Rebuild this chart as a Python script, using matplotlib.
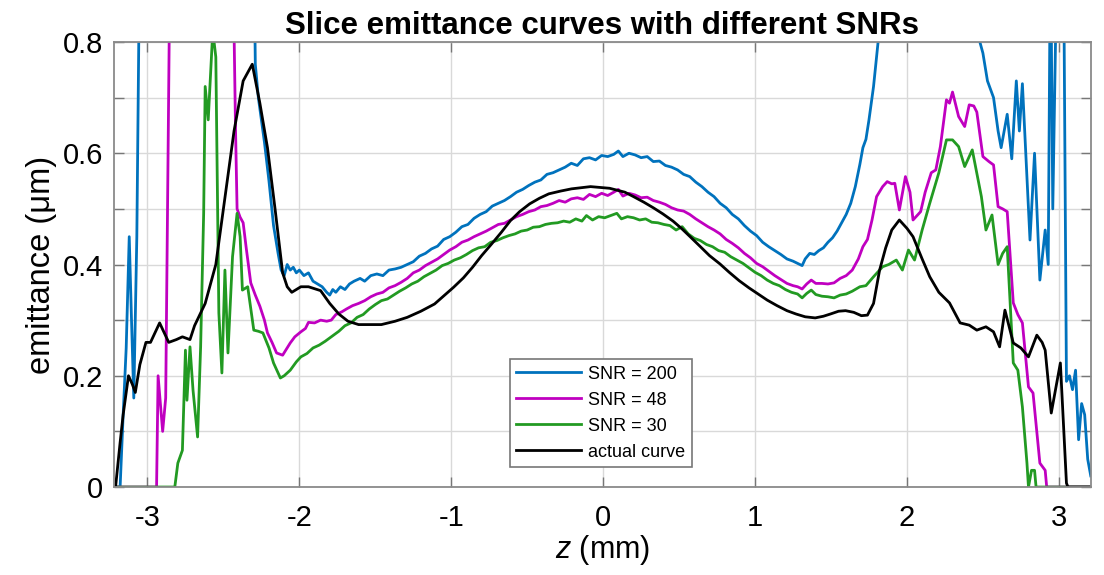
import matplotlib
matplotlib.use("Agg")
import matplotlib.pyplot as plt

# ---- data (z in mm, emittance in um) ----
# values above 0.8 are clipped in the original plot, 1.0 marks "off the top"
blue_z = [-3.21, -3.18, -3.16, -3.14, -3.12, -3.105, -3.09, -3.07, -3.05, -2.30,
          -2.29, -2.27, -2.25, -2.23, -2.20, -2.17, -2.14, -2.12, -2.10, -2.08,
          -2.06, -2.04, -2.02, -2.00, -1.97, -1.94, -1.91, -1.88, -1.85, -1.82,
          -1.80, -1.78, -1.76, -1.73, -1.70, -1.67, -1.64, -1.60, -1.57, -1.53,
          -1.49, -1.45, -1.41, -1.37, -1.33, -1.29, -1.25, -1.21, -1.17, -1.13,
          -1.09, -1.05, -1.01, -0.97, -0.93, -0.89, -0.85, -0.81, -0.77, -0.73,
          -0.69, -0.65, -0.61, -0.57, -0.53, -0.49, -0.45, -0.41, -0.37, -0.33,
          -0.29, -0.25, -0.21, -0.17, -0.13, -0.09, -0.05, -0.01, 0.03, 0.07,
          0.10, 0.13, 0.17, 0.21, 0.25, 0.29, 0.33, 0.37, 0.41, 0.45,
          0.49, 0.53, 0.57, 0.61, 0.65, 0.69, 0.73, 0.77, 0.81, 0.85,
          0.89, 0.93, 0.97, 1.01, 1.05, 1.09, 1.13, 1.17, 1.21, 1.25,
          1.28, 1.31, 1.33, 1.36, 1.39, 1.42, 1.45, 1.48, 1.51, 1.54,
          1.57, 1.60, 1.63, 1.66, 1.69, 1.71, 1.73, 1.75, 1.78, 1.81,
          1.83, 2.47, 2.48, 2.50, 2.53, 2.57, 2.60, 2.62, 2.66, 2.69,
          2.72, 2.74, 2.76, 2.81, 2.84, 2.875, 2.91, 2.93, 2.945, 2.96,
          2.99, 3.03, 3.05, 3.07, 3.09, 3.11, 3.13, 3.15, 3.17, 3.19,
          3.21]
blue_y = [0.0, 0.0, 0.13, 0.25, 0.45, 0.30, 0.16, 0.45, 1.0, 1.0,
          0.76, 0.70, 0.66, 0.62, 0.55, 0.47, 0.42, 0.39, 0.38, 0.40,
          0.39, 0.395, 0.385, 0.39, 0.38, 0.385, 0.37, 0.365, 0.36, 0.35,
          0.345, 0.355, 0.35, 0.36, 0.355, 0.365, 0.37, 0.375, 0.37, 0.38,
          0.383, 0.38, 0.39, 0.392, 0.395, 0.40, 0.405, 0.415, 0.42, 0.428,
          0.433, 0.445, 0.45, 0.458, 0.468, 0.472, 0.483, 0.49, 0.495, 0.505,
          0.51, 0.515, 0.522, 0.53, 0.535, 0.542, 0.548, 0.552, 0.562, 0.565,
          0.57, 0.575, 0.582, 0.578, 0.59, 0.592, 0.588, 0.596, 0.594, 0.598,
          0.604, 0.594, 0.60, 0.597, 0.592, 0.594, 0.585, 0.586, 0.578, 0.575,
          0.57, 0.562, 0.558, 0.548, 0.54, 0.53, 0.522, 0.51, 0.502, 0.49,
          0.482, 0.47, 0.46, 0.452, 0.44, 0.432, 0.425, 0.418, 0.41, 0.406,
          0.402, 0.398, 0.41, 0.42, 0.418, 0.425, 0.43, 0.44, 0.448, 0.46,
          0.475, 0.49, 0.51, 0.54, 0.58, 0.61, 0.625, 0.66, 0.72, 0.80,
          1.0, 1.0, 0.80, 0.78, 0.73, 0.70, 0.64, 0.61, 0.67, 0.59,
          0.73, 0.64, 0.725, 0.444, 0.60, 0.372, 0.462, 0.40, 1.0, 0.50,
          1.0, 1.0, 0.19, 0.20, 0.175, 0.21, 0.085, 0.15, 0.13, 0.05,
          0.02]

mag_z = [-3.22, -2.94, -2.93, -2.90, -2.88, -2.85, -2.44, -2.42, -2.41, -2.39,
         -2.37, -2.35, -2.32, -2.29, -2.26, -2.23, -2.21, -2.18, -2.15, -2.11,
         -2.08, -2.06, -2.03, -1.99, -1.96, -1.94, -1.90, -1.86, -1.82, -1.79,
         -1.76, -1.72, -1.69, -1.65, -1.61, -1.57, -1.53, -1.49, -1.45, -1.41,
         -1.37, -1.33, -1.29, -1.25, -1.21, -1.17, -1.13, -1.09, -1.05, -1.01,
         -0.97, -0.93, -0.89, -0.85, -0.81, -0.77, -0.73, -0.69, -0.65, -0.61,
         -0.57, -0.53, -0.49, -0.45, -0.41, -0.37, -0.33, -0.29, -0.25, -0.21,
         -0.17, -0.13, -0.09, -0.05, -0.01, 0.03, 0.07, 0.10, 0.13, 0.17,
         0.21, 0.25, 0.29, 0.33, 0.37, 0.41, 0.45, 0.49, 0.53, 0.57,
         0.61, 0.65, 0.69, 0.73, 0.77, 0.81, 0.85, 0.89, 0.93, 0.97,
         1.01, 1.05, 1.09, 1.13, 1.17, 1.21, 1.25, 1.28, 1.31, 1.34,
         1.37, 1.40, 1.44, 1.48, 1.52, 1.56, 1.60, 1.64, 1.68, 1.71,
         1.74, 1.77, 1.80, 1.84, 1.87, 1.90, 1.92, 1.95, 1.99, 2.02,
         2.04, 2.09, 2.12, 2.16, 2.19, 2.22, 2.26, 2.28, 2.30, 2.34,
         2.38, 2.41, 2.44, 2.46, 2.50, 2.54, 2.57, 2.60, 2.63, 2.66,
         2.70, 2.73, 2.76, 2.80, 2.83, 2.875, 2.91, 2.92, 3.22]
mag_y = [0.0, 0.0, 0.20, 0.10, 0.16, 1.0, 1.0, 0.64, 0.50, 0.485,
         0.475, 0.43, 0.367, 0.345, 0.325, 0.30, 0.277, 0.26, 0.241, 0.237,
         0.25, 0.259, 0.27, 0.279, 0.285, 0.296, 0.295, 0.30, 0.298, 0.30,
         0.31, 0.315, 0.32, 0.326, 0.33, 0.335, 0.342, 0.347, 0.35, 0.358,
         0.362, 0.368, 0.375, 0.385, 0.39, 0.398, 0.404, 0.41, 0.418, 0.426,
         0.432, 0.44, 0.444, 0.45, 0.455, 0.46, 0.466, 0.472, 0.474, 0.48,
         0.486, 0.49, 0.495, 0.498, 0.504, 0.506, 0.51, 0.515, 0.512, 0.518,
         0.52, 0.517, 0.526, 0.522, 0.528, 0.524, 0.53, 0.535, 0.523, 0.528,
         0.525, 0.52, 0.521, 0.515, 0.512, 0.508, 0.502, 0.498, 0.496, 0.49,
         0.482, 0.475, 0.468, 0.462, 0.455, 0.445, 0.438, 0.43, 0.42, 0.412,
         0.402, 0.396, 0.388, 0.38, 0.373, 0.366, 0.362, 0.36, 0.356, 0.365,
         0.372, 0.366, 0.366, 0.365, 0.367, 0.375, 0.38, 0.39, 0.41, 0.432,
         0.445, 0.48, 0.522, 0.54, 0.549, 0.545, 0.546, 0.498, 0.558, 0.53,
         0.48, 0.495, 0.53, 0.565, 0.57, 0.612, 0.696, 0.69, 0.71, 0.666,
         0.648, 0.687, 0.685, 0.674, 0.594, 0.585, 0.579, 0.504, 0.50, 0.495,
         0.331, 0.31, 0.295, 0.18, 0.169, 0.043, 0.03, 0.0, 0.0]

green_z = [-3.22, -2.82, -2.80, -2.77, -2.75, -2.74, -2.72, -2.70, -2.67, -2.65,
           -2.63, -2.62, -2.60, -2.57, -2.55, -2.53, -2.51, -2.49, -2.47, -2.44,
           -2.41, -2.39, -2.375, -2.34, -2.30, -2.27, -2.24, -2.20, -2.17, -2.125,
           -2.10, -2.06, -2.02, -1.99, -1.95, -1.91, -1.87, -1.83, -1.79, -1.74,
           -1.70, -1.66, -1.62, -1.58, -1.54, -1.50, -1.46, -1.42, -1.38, -1.34,
           -1.30, -1.26, -1.22, -1.18, -1.14, -1.10, -1.06, -1.02, -0.98, -0.94,
           -0.90, -0.86, -0.82, -0.78, -0.74, -0.70, -0.66, -0.62, -0.58, -0.54,
           -0.50, -0.46, -0.42, -0.38, -0.34, -0.30, -0.26, -0.22, -0.18, -0.14,
           -0.11, -0.07, -0.03, 0.01, 0.05, 0.09, 0.12, 0.16, 0.20, 0.24,
           0.28, 0.32, 0.36, 0.40, 0.44, 0.48, 0.52, 0.56, 0.60, 0.64,
           0.68, 0.72, 0.76, 0.80, 0.84, 0.88, 0.92, 0.96, 1.00, 1.04,
           1.08, 1.12, 1.16, 1.20, 1.24, 1.28, 1.31, 1.34, 1.37, 1.40,
           1.44, 1.48, 1.52, 1.56, 1.60, 1.64, 1.69, 1.73, 1.78, 1.84,
           1.88, 1.93, 1.97, 2.01, 2.05, 2.10, 2.15, 2.21, 2.26, 2.30,
           2.34, 2.38, 2.43, 2.49, 2.52, 2.56, 2.60, 2.63, 2.66, 2.70,
           2.73, 2.76, 2.79, 2.80, 2.82, 2.84, 2.85, 3.22]
green_y = [0.0, 0.0, 0.043, 0.066, 0.246, 0.156, 0.252, 0.174, 0.09, 0.252,
           0.492, 0.72, 0.66, 0.82, 0.773, 0.313, 0.205, 0.39, 0.241, 0.414,
           0.492, 0.45, 0.354, 0.36, 0.282, 0.28, 0.277, 0.25, 0.223, 0.196,
           0.20, 0.21, 0.225, 0.234, 0.24, 0.25, 0.255, 0.262, 0.27, 0.28,
           0.29, 0.295, 0.305, 0.31, 0.32, 0.328, 0.335, 0.338, 0.345, 0.352,
           0.358, 0.365, 0.37, 0.378, 0.384, 0.39, 0.398, 0.402, 0.408, 0.412,
           0.418, 0.425, 0.43, 0.432, 0.44, 0.443, 0.448, 0.452, 0.455, 0.46,
           0.462, 0.467, 0.468, 0.472, 0.474, 0.475, 0.478, 0.476, 0.482, 0.478,
           0.488, 0.48, 0.486, 0.484, 0.488, 0.492, 0.482, 0.486, 0.484, 0.48,
           0.482, 0.476, 0.475, 0.472, 0.47, 0.462, 0.468, 0.455, 0.447, 0.443,
           0.436, 0.432, 0.425, 0.422, 0.414, 0.408, 0.402, 0.394, 0.386, 0.38,
           0.372, 0.366, 0.362, 0.355, 0.35, 0.347, 0.34, 0.348, 0.354, 0.346,
           0.343, 0.342, 0.34, 0.345, 0.347, 0.352, 0.36, 0.362, 0.378, 0.396,
           0.40, 0.408, 0.39, 0.426, 0.408, 0.462, 0.51, 0.565, 0.624, 0.624,
           0.612, 0.576, 0.606, 0.522, 0.462, 0.489, 0.40, 0.42, 0.432, 0.223,
           0.21, 0.144, 0.043, 0.0, 0.03, 0.03, 0.0, 0.0]

black_z = [-3.21, -3.18, -3.16, -3.14, -3.125, -3.10, -3.08, -3.05, -3.01, -2.98,
           -2.92, -2.86, -2.81, -2.77, -2.72, -2.69, -2.62, -2.55, -2.50, -2.43,
           -2.37, -2.31, -2.26, -2.21, -2.16, -2.11, -2.08, -2.05, -1.99, -1.94,
           -1.86, -1.80, -1.74, -1.68, -1.61, -1.46, -1.37, -1.29, -1.20, -1.11,
           -0.985, -0.92, -0.86, -0.80, -0.734, -0.67, -0.61, -0.55, -0.484, -0.42,
           -0.358, -0.28, -0.208, -0.083, 0.043, 0.143, 0.20, 0.268, 0.33, 0.393,
           0.46, 0.519, 0.58, 0.644, 0.70, 0.769, 0.83, 0.895, 0.96, 1.02,
           1.08, 1.145, 1.21, 1.27, 1.33, 1.396, 1.45, 1.496, 1.55, 1.596,
           1.65, 1.70, 1.74, 1.78, 1.82, 1.86, 1.90, 1.95, 2.00, 2.04,
           2.10, 2.15, 2.21, 2.28, 2.35, 2.41, 2.46, 2.52, 2.57, 2.61,
           2.645, 2.70, 2.75, 2.80, 2.855, 2.89, 2.91, 2.95, 3.01, 3.05,
           3.06, 3.22]
black_y = [0.0, 0.08, 0.13, 0.17, 0.20, 0.185, 0.17, 0.22, 0.26, 0.26,
           0.295, 0.26, 0.265, 0.27, 0.265, 0.29, 0.33, 0.40, 0.50, 0.64,
           0.73, 0.76, 0.69, 0.61, 0.50, 0.385, 0.36, 0.35, 0.36, 0.36,
           0.353, 0.33, 0.311, 0.298, 0.292, 0.292, 0.298, 0.305, 0.316, 0.329,
           0.359, 0.376, 0.395, 0.416, 0.437, 0.458, 0.479, 0.495, 0.509, 0.519,
           0.527, 0.532, 0.536, 0.54, 0.537, 0.53, 0.522, 0.512, 0.502, 0.491,
           0.478, 0.464, 0.448, 0.431, 0.416, 0.401, 0.386, 0.371, 0.358, 0.347,
           0.336, 0.326, 0.317, 0.311, 0.306, 0.304, 0.307, 0.311, 0.316, 0.317,
           0.314, 0.308, 0.309, 0.33, 0.39, 0.43, 0.462, 0.48, 0.465, 0.45,
           0.41, 0.378, 0.35, 0.331, 0.295, 0.291, 0.282, 0.288, 0.279, 0.252,
           0.318, 0.259, 0.25, 0.234, 0.273, 0.26, 0.246, 0.133, 0.223, 0.007,
           0.0, 0.0]

labels = ["SNR = 200", "SNR = 48", "SNR = 30", "actual curve"]
colors = ["#0072BD", "#C000C0", "#229A22", "#000000"]
xticks = [-3, -2, -1, 0, 1, 2, 3]
yticks = [0, 0.1, 0.2, 0.3, 0.4, 0.5, 0.6, 0.7, 0.8]
ytick_labels = ["0", "", "0.2", "", "0.4", "", "0.6", "", "0.8"]

plt.rcParams["font.family"] = ["Liberation Sans", "DejaVu Sans"]
plt.rcParams["mathtext.fontset"] = "custom"
plt.rcParams["mathtext.it"] = "Liberation Sans:italic"
plt.rcParams["mathtext.rm"] = "Liberation Sans"

fig = plt.figure(figsize=(11.04, 5.75), dpi=100)
ax = fig.add_axes([0.1033, 0.153, 0.8847, 0.774])

series = [(blue_z, blue_y), (mag_z, mag_y), (green_z, green_y), (black_z, black_y)]
for (zz, yy), lab, col in zip(series, labels, colors):
    ax.plot(zz, yy, color=col, lw=2.0, label=lab)

ax.set_xlim(-3.22, 3.21)
ax.set_ylim(0, 0.8)
ax.set_xticks(xticks)
ax.set_xticklabels([str(t) for t in xticks])
ax.set_yticks(yticks)
ax.set_yticklabels(ytick_labels)
ax.grid(True, color="#d9d9d9", lw=1.0)
ax.set_axisbelow(True)

ax.tick_params(direction="in", top=True, right=True, length=7, width=1.0,
               color="#777777", labelsize=21)
ax.tick_params(axis="x", pad=12)
ax.tick_params(axis="y", pad=8)
for sp in ax.spines.values():
    sp.set_color("#8a8a8a")
    sp.set_linewidth(1.3)

ax.set_title("Slice emittance curves with different SNRs", fontsize=22.5,
             fontweight="bold", pad=6)
ax.set_xlabel("$z$ (mm)", fontsize=22, labelpad=1)
ax.set_ylabel("emittance (μm)", fontsize=23.5, labelpad=4)

leg = ax.legend(loc="lower left", bbox_to_anchor=(0.405, 0.045), borderaxespad=0,
                fontsize=13, handlelength=3.6, handletextpad=0.4, labelspacing=0.5,
                fancybox=False, framealpha=1, borderpad=0.35)
leg.get_frame().set_edgecolor("#777777")
leg.get_frame().set_linewidth(1.2)

fig.savefig("out.png", dpi=100)
